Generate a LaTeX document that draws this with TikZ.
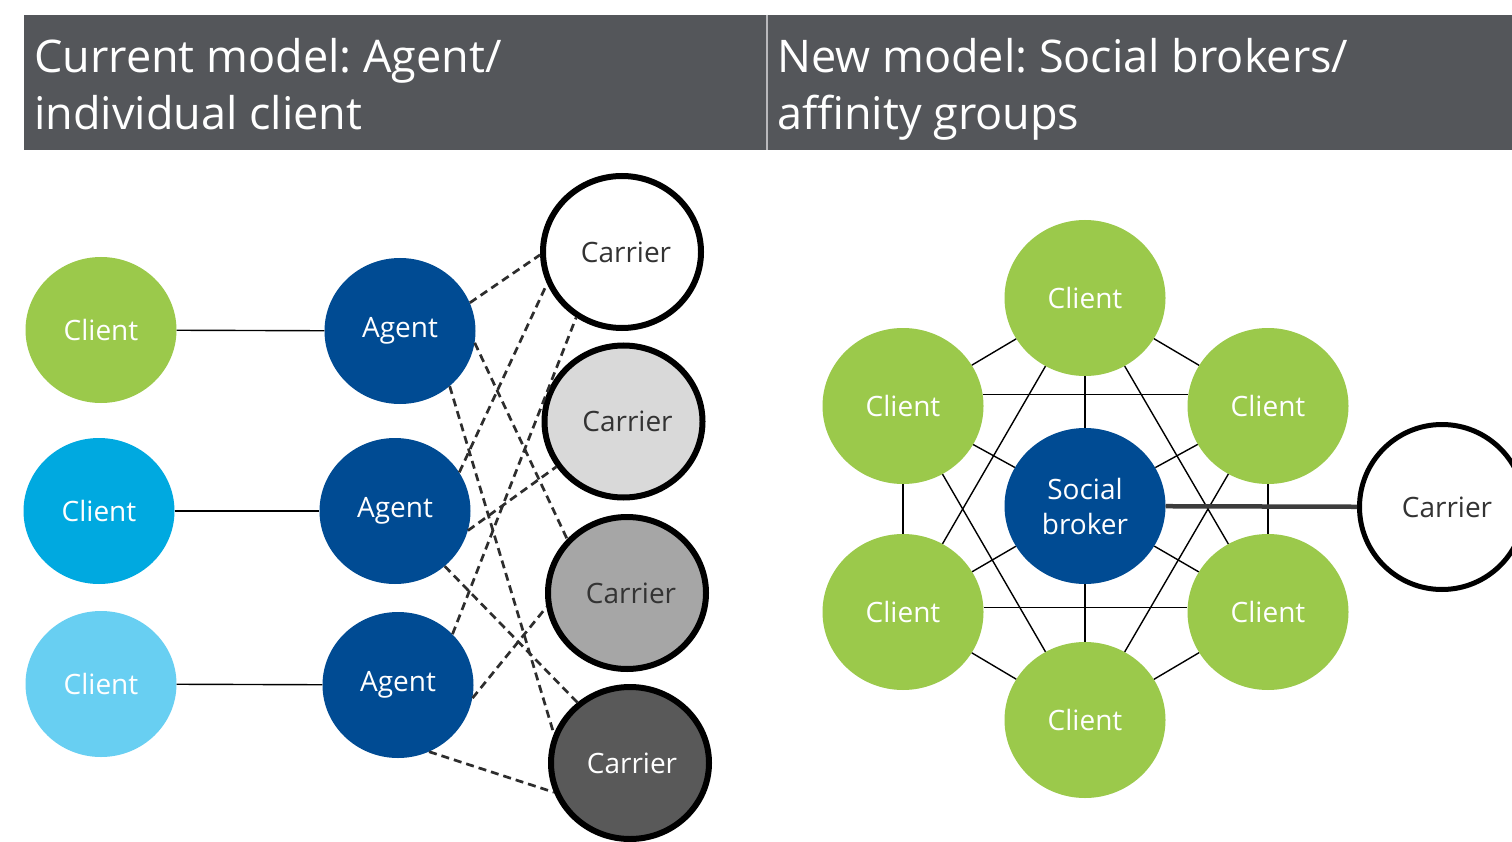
\documentclass[tikz,border=0pt]{standalone}
\usepackage{fontspec}
\setmainfont{Open Sans}
\usetikzlibrary{shapes.geometric}
\frenchspacing
\definecolor{hdr}{RGB}{84,86,90}
\definecolor{divgray}{RGB}{185,185,188}
\definecolor{grn}{RGB}{155,201,75}
\definecolor{cyn}{RGB}{0,169,224}
\definecolor{lblue}{RGB}{104,207,242}
\definecolor{dblue}{RGB}{0,75,147}
\definecolor{cartwo}{RGB}{217,217,217}
\definecolor{carthree}{RGB}{166,166,166}
\definecolor{carfour}{RGB}{89,89,89}
\definecolor{txtgray}{RGB}{51,51,51}
\definecolor{dgray}{RGB}{45,45,45}
\definecolor{thickgray}{RGB}{60,60,60}
\begin{document}
\begin{tikzpicture}[x=1pt,y=-1pt,
  bub/.style={ellipse, inner sep=0pt, minimum width=151pt, minimum height=146pt, text=white, font=\fontsize{28}{34}\selectfont},
  bigbub/.style={ellipse, inner sep=0pt, minimum width=161pt, minimum height=156pt, fill=grn, text=white, font=\fontsize{28}{35}\selectfont},
  carr/.style={ellipse, draw=black, line width=6pt, inner sep=0pt, minimum width=158pt, minimum height=152pt, text=txtgray, font=\fontsize{28}{34}\selectfont},
  link/.style={line width=1.4pt, black},
  dlink/.style={line width=2.7pt, draw=dgray, dash pattern=on 8pt off 5pt},
  hdrtext/.style={anchor=base west, inner sep=0pt, text=white, font=\fontsize{45}{57}\selectfont}
]
\useasboundingbox (0,0) rectangle (1512,842);
\clip (0,0) rectangle (1512,842);
\fill[white] (0,0) rectangle (1512,842);

% header
\fill[hdr] (24,15) rectangle (1512,150);
\draw[divgray, line width=2pt] (767,15) -- (767,150);
\node[hdrtext] (h1a) at (34,73) {Current model: Agent/};
\node[hdrtext] (h1b) at (34,130) {individual client};
\node[hdrtext] (h2a) at (777,73) {New model: Social brokers/};
\node[hdrtext] (h2b) at (777,130) {affinity groups};

% left side
\node[bub, fill=grn] (cl1) at (101,330) {Client};
\node[bub, fill=cyn] (cl2) at (99,511) {Client};
\node[bub, fill=lblue] (cl3) at (101,684) {Client};
\node[bub, fill=dblue] (ag1) at (400,331) {Agent};
\node[bub, fill=dblue] (ag2) at (395,511) {Agent};
\node[bub, fill=dblue] (ag3) at (398,685) {Agent};
\node[carr, fill=white] (ca1) at (622,252) {\hspace*{8pt}Carrier};
\node[carr, fill=cartwo] (ca2) at (623.5,421.5) {\hspace*{8pt}Carrier};
\node[carr, fill=carthree] (ca3) at (627,593) {\hspace*{8pt}Carrier};
\node[carr, fill=carfour, text=white] (ca4) at (630,763) {\hspace*{4pt}Carrier};

\draw[link] (cl1) -- (ag1);
\draw[link] (cl2) -- (ag2);
\draw[link] (cl3) -- (ag3);

\draw[dlink] (ag1.22) -- (ca1.182);
\draw[dlink] (ag1.-9) -- (ca3.138);
\draw[dlink] (ag1.-48) -- (ca4.159);
\draw[dlink] (ag2.31) -- (ca1.203);
\draw[dlink] (ag2.-15) -- (ca2.214);
\draw[dlink] (ag2.-48) -- (ca4.131);
\draw[dlink] (ag3.43) -- (ca1.235);
\draw[dlink] (ag3.-10) -- (ca3.190);
\draw[dlink] (ag3.-65) -- (ca4.201);

% right side
\node[bigbub, fill=dblue, align=center] (br) at (1085,506) {Social\\broker};
\node[bigbub] (ct) at (1085,298) {Client};
\node[bigbub] (cul) at (903,406) {Client};
\node[bigbub] (cur) at (1268,406) {Client};
\node[bigbub] (cll) at (903,612) {Client};
\node[bigbub] (clr) at (1268,612) {Client};
\node[bigbub] (cb) at (1085,720) {Client};
\node[carr, fill=white, line width=5pt, minimum width=165pt, minimum height=165pt] (rc) at (1442,507) {\hspace*{10pt}Carrier};

\foreach \n in {ct,cul,cur,cll,clr,cb} \draw[link] (br) -- (\n);
\draw[link] (ct) -- (cul);
\draw[link] (ct) -- (cur);
\draw[link] (ct) -- (cll);
\draw[link] (ct) -- (clr);
\draw[link] (cul.8) -- (cur.172);
\draw[link] (cul) -- (cll);
\draw[link] (cul) -- (cb);
\draw[link] (cur) -- (clr);
\draw[link] (cur) -- (cb);
\draw[link] (cll.3) -- (clr.177);
\draw[link] (cll) -- (cb);
\draw[link] (clr) -- (cb);
\draw[thickgray, line width=4.5pt] (br) -- (rc);
\end{tikzpicture}
\end{document}
